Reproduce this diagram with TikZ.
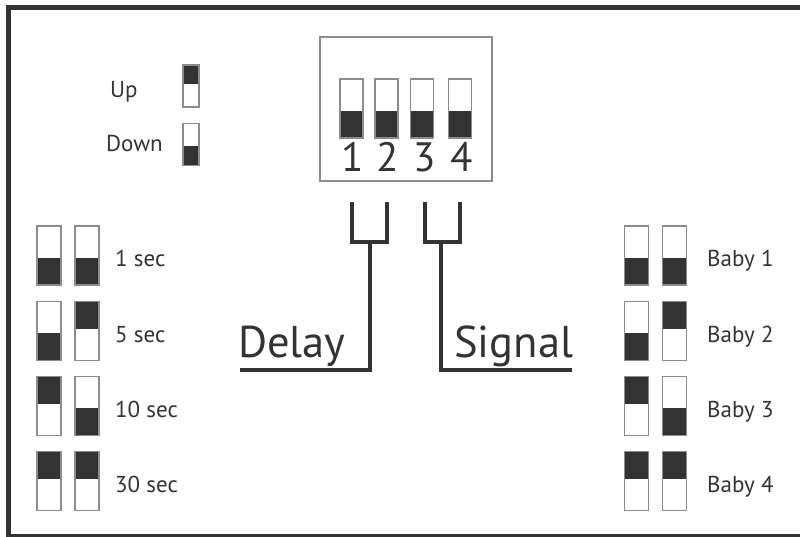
\documentclass[tikz,border=0pt]{standalone}
\usepackage{fontspec}
\setmainfont{PT Sans}
\usetikzlibrary{calc}
\definecolor{ink}{HTML}{333333}
\definecolor{edge}{HTML}{8C8C8C}
\begin{document}
\begin{tikzpicture}[x=1pt,y=-1pt,
  sw/.style={rectangle,draw=edge,line width=1.6pt,inner sep=0pt,minimum width=24pt,minimum height=59pt},
  small/.style={minimum width=16pt,minimum height=42pt},
  dip/.style={minimum width=23pt,minimum height=59pt},
  up/.style={path picture={\fill[ink] (path picture bounding box.north west) rectangle ($(path picture bounding box.north east)!0.46!(path picture bounding box.south east)$);}},
  down/.style={path picture={\fill[ink] (path picture bounding box.south west) rectangle ($(path picture bounding box.south east)!0.46!(path picture bounding box.north east)$);}},
  lab/.style={text=ink,font=\fontsize{23}{23}\selectfont,anchor=base west,inner sep=0pt},
  num/.style={text=ink,font=\fontsize{41}{41}\selectfont,anchor=base,inner sep=0pt},
  big/.style={text=ink,font=\fontsize{44.5}{44.5}\selectfont,anchor=base west,inner sep=0pt},
  wire/.style={draw=ink,line width=4pt},
]
\useasboundingbox (0,0) rectangle (800,537);
\clip (0,0) rectangle (800,537);
\draw[ink,line width=5pt] (8,8) rectangle (820,536);

% legend
\node[lab] (uplab) at (110,98) {Up};
\node[lab] (downlab) at (106,152) {Down};
\node[sw,small,up] (upsw) at (191,86) {};
\node[sw,small,down] (downsw) at (191,144.5) {};

% DIP box
\node[draw=edge,line width=1.2pt,minimum width=172pt,minimum height=144pt,inner sep=0pt] (dipbox) at (406,109) {};
\node[sw,dip,down] (d1) at (351.5,108.5) {};
\node[sw,dip,down] (d2) at (386.5,108.5) {};
\node[sw,dip,down] (d3) at (422,108.5) {};
\node[sw,dip,down] (d4) at (460,108.5) {};
\node[num] (n1) at (353,172) {1};
\node[num] (n2) at (388,172) {2};
\node[num] (n3) at (425,172) {3};
\node[num] (n4) at (462,172) {4};

% brackets
\coordinate (la) at (352,202); \coordinate (lb) at (352,242);
\coordinate (lc) at (387,242); \coordinate (ld) at (387,202);
\coordinate (ls) at (370,242); \coordinate (lk) at (370,370); \coordinate (le) at (240,370);
\coordinate (ra) at (425,202); \coordinate (rb) at (425,242);
\coordinate (rc) at (460,242); \coordinate (rd) at (460,202);
\coordinate (rs) at (441,242); \coordinate (rk) at (441,370); \coordinate (re) at (572,370);
\draw[wire] (la) -- (lb) -- (lc) -- (ld);
\draw[wire] (ls) -- (lk) -- (le);
\draw[wire] (ra) -- (rb) -- (rc) -- (rd);
\draw[wire] (rs) -- (rk) -- (re);
\node[big] (delay) at (238,357) {Delay};
\node[big] (signal) at (454,357) {Signal};

% left table
\node[sw,down] (a11) at (49,255.5) {};
\node[sw,down] (a12) at (87,255.5) {};
\node[lab] (t1) at (115,267) {1 sec};
\node[sw,down] (a21) at (49,331) {};
\node[sw,up] (a22) at (87,331) {};
\node[lab] (t2) at (115,342.5) {5 sec};
\node[sw,up] (a31) at (49,406) {};
\node[sw,down] (a32) at (87,406) {};
\node[lab] (t3) at (115,417.5) {10 sec};
\node[sw,up] (a41) at (49,481) {};
\node[sw,up] (a42) at (87,481) {};
\node[lab] (t4) at (115,492.5) {30 sec};

% right table
\node[sw,down] (b11) at (636.5,255.5) {};
\node[sw,down] (b12) at (674.5,255.5) {};
\node[lab] (s1) at (707,267) {Baby 1};
\node[sw,down] (b21) at (636.5,331) {};
\node[sw,up] (b22) at (674.5,331) {};
\node[lab] (s2) at (707,342.5) {Baby 2};
\node[sw,up] (b31) at (636.5,406) {};
\node[sw,down] (b32) at (674.5,406) {};
\node[lab] (s3) at (707,417.5) {Baby 3};
\node[sw,up] (b41) at (636.5,481) {};
\node[sw,up] (b42) at (674.5,481) {};
\node[lab] (s4) at (707,492.5) {Baby 4};
\end{tikzpicture}
\end{document}
